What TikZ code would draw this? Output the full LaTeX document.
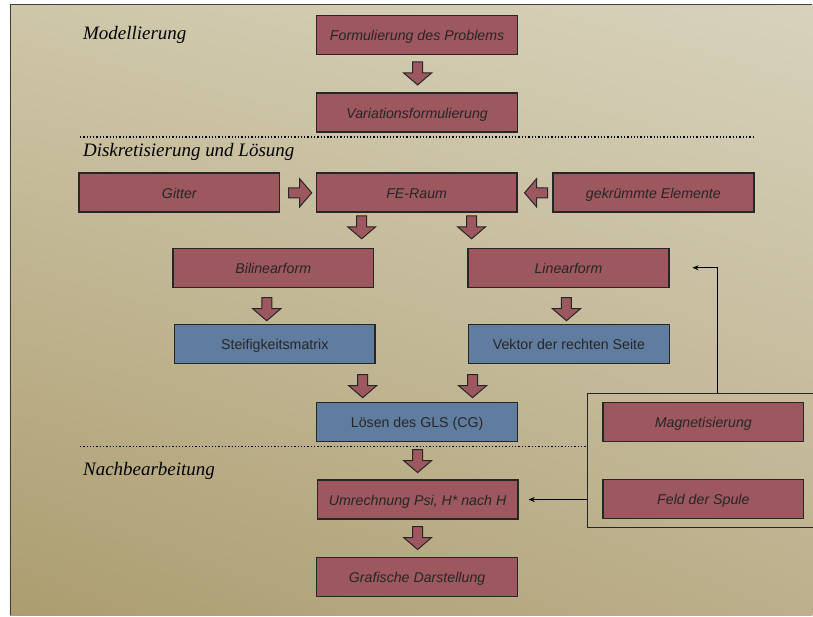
\documentclass[tikz,border=0pt]{standalone}
\usepackage{fontspec}
\setmainfont{Liberation Serif}
\setsansfont{Liberation Sans}
\usetikzlibrary{arrows.meta,shadings}

\definecolor{boxred}{RGB}{156,88,94}
\definecolor{boxblue}{RGB}{96,125,160}
\definecolor{bgtl}{RGB}{206,198,168}
\definecolor{bgtr}{RGB}{216,210,188}
\definecolor{bgbl}{RGB}{172,157,112}
\definecolor{bgbr}{RGB}{188,176,140}

\tikzset{
 stage/.style={draw=black!85, line width=1.4pt, minimum width=201pt, minimum height=39pt,
  inner sep=0pt, text height=11.4pt, text depth=0pt,
  font=\sffamily\itshape\fontsize{14.2}{16}\selectfont, text=black!85},
 redbox/.style={stage, fill=boxred},
 bluebox/.style={stage, fill=boxblue, font=\sffamily\fontsize{14.2}{16}\selectfont},
 phase/.style={anchor=base west, font=\itshape\fontsize{19}{21}\selectfont, inner sep=0pt},
 blockarr/.pic={\draw[fill=boxred, draw=black!85, line width=1pt]
  (-5,0) -- (5,0) -- (5,11) -- (14,11) -- (0,23) -- (-14,11) -- (-5,11) -- cycle;}
}

\begin{document}
\begin{tikzpicture}[x=1pt,y=-1pt]
 %background
 \fill[white] (0,0) rectangle (813,616);
 \shade[upper left=bgtl, upper right=bgtr, lower left=bgbl, lower right=bgbr]
  (10,4) rectangle (813,616);
 \draw[black!75, line width=1.5pt] (10.5,616) -- (10.5,4.5) -- (813,4.5);
 \useasboundingbox (0,0) rectangle (813,616);

 %centers of boxes
 \coordinate (P) at (417.5,35);   %Formulierung des Problems
 \coordinate (V) at (417.5,112.5); %Variationsformulierung
 \coordinate (G) at (179.5,192.5); %Gitter
 \coordinate (F) at (417,192.5);   %FE-Raum
 \coordinate (K) at (654,192.5);   %gekruemmte Elemente
 \coordinate (B) at (273.5,268);   %Bilinearform
 \coordinate (L) at (569,268);     %Linearform
 \coordinate (S) at (275,344.5);   %Steifigkeitsmatrix
 \coordinate (R) at (569.5,344.5); %Vektor der rechten Seite
 \coordinate (C) at (417.5,422.5); %Loesen des GLS
 \coordinate (U) at (418,500);     %Umrechnung
 \coordinate (D) at (417.5,577.5); %Grafische Darstellung
 \coordinate (M) at (704,422.5);   %Magnetisierung
 \coordinate (Q) at (704,499.5);   %Feld der Spule

 %phase titles
 \node[phase] (mod) at (83,40) {Modellierung};
 \node[phase] (dis) at (83,157) {Diskretisierung und Lösung};
 \node[phase] (nach) at (83,475.5) {Nachbearbeitung};

 %separators
 \draw[dotted, line width=1.3pt] (80,137) -- (755,137);
 \draw[dotted, line width=1.3pt] (80,447) -- (588,447);

 %group of external sources
 \node[draw=black!85, line width=1pt, minimum width=226pt, minimum height=134pt, inner sep=0pt]
  (grp) at (701,461) {};

 %boxes
 \node[redbox] (prob) at (P) {Formulierung des Problems};
 \node[redbox] (var) at (V) {Variationsformulierung};
 \node[redbox] (gitter) at (G) {Gitter};
 \node[redbox] (fe) at (F) {FE-Raum};
 \node[redbox] (gek) at (K) {gekrümmte Elemente};
 \node[redbox] (bil) at (B) {Bilinearform};
 \node[redbox] (lin) at (L) {Linearform};
 \node[bluebox] (steif) at (S) {Steifigkeitsmatrix};
 \node[bluebox] (rhs) at (R) {Vektor der rechten Seite};
 \node[bluebox] (gls) at (C) {Lösen des GLS (CG)};
 \node[redbox] (umr) at (U) {Umrechnung Psi, H* nach H};
 \node[redbox] (graf) at (D) {Grafische Darstellung};
 \node[redbox] (mag) at (M) {Magnetisierung};
 \node[redbox] (spule) at (Q) {Feld der Spule};

 %block arrows
 \pic at (418,62) {blockarr};
 \pic[rotate=90] at (289,193) {blockarr};
 \pic[rotate=-90] at (548,193) {blockarr};
 \pic at (362,216) {blockarr};
 \pic at (472,216) {blockarr};
 \pic at (267,298) {blockarr};
 \pic at (567,298) {blockarr};
 \pic at (363,375) {blockarr};
 \pic at (473,375) {blockarr};
 \pic at (418,450) {blockarr};
 \pic at (418,527) {blockarr};

 %feedback lines
 \draw[-{Stealth[length=6pt,width=5pt]}, line width=0.8pt, shorten >=23pt]
  ([xshift=17pt]grp.north) |- (lin.east);
 \draw[-{Stealth[length=6pt,width=5pt]}, line width=0.8pt, shorten >=10pt]
  (grp.west |- umr.east) -- (umr.east);
\end{tikzpicture}
\end{document}
